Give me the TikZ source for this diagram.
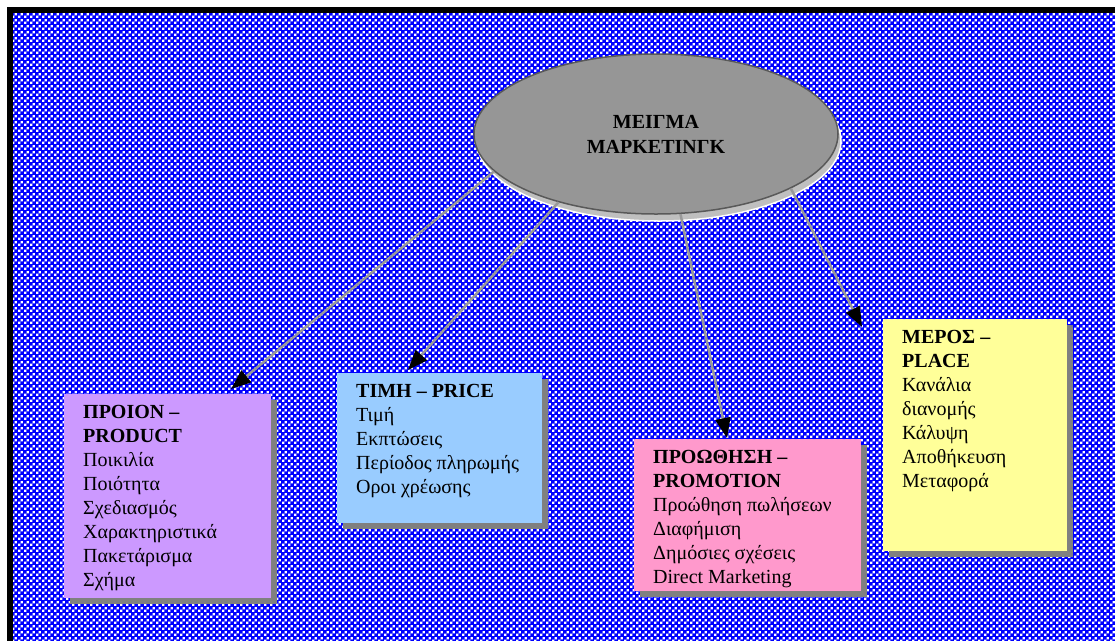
\documentclass[tikz,border=0pt]{standalone}
\usepackage{fontspec}
\setmainfont{Liberation Serif}
\usetikzlibrary{arrows.meta,calc,shapes.geometric,shadows,patterns}
\definecolor{dither}{RGB}{0,0,255}
\definecolor{prodviolet}{RGB}{204,153,255}
\definecolor{priceblue}{RGB}{153,204,255}
\definecolor{promopink}{RGB}{255,153,204}
\definecolor{placeyellow}{RGB}{255,255,153}
\definecolor{mixgray}{RGB}{150,150,150}
\pgfdeclarepatternformonly{chequer}{\pgfpointorigin}{\pgfpoint{6pt}{6pt}}{\pgfpoint{6pt}{6pt}}{%
  \pgfpathrectangle{\pgfpoint{0.2pt}{0.2pt}}{\pgfpoint{2.6pt}{2.6pt}}%
  \pgfpathrectangle{\pgfpoint{3.2pt}{3.2pt}}{\pgfpoint{2.6pt}{2.6pt}}%
  \pgfusepath{fill}}
\newcommand{\cardtext}[3]{\begin{minipage}[t][#2][t]{#1}\raggedright #3\end{minipage}}

\begin{document}
\begin{tikzpicture}[x=1pt,y=-1pt,font=\fontsize{20}{24}\selectfont,
    card/.style={draw=none,anchor=north west,inner xsep=19pt,inner ysep=11pt,
      drop shadow={shadow xshift=6pt,shadow yshift=-6pt,fill=black!50,opacity=1}},
    link/.style={draw=black!40,line width=2.5pt,-{Triangle[length=20pt,width=15pt,black]}}]

    % background
    \useasboundingbox (0,0) rectangle (1115,641);
    \fill[white] (0,0) rectangle (1115,641);
    \fill[dither] (13,13) rectangle (1115,641);
    \fill[pattern=chequer,pattern color=white] (13,13) rectangle (1115,641);
    \fill[black] (7,7) rectangle (1115,13);
    \fill[black] (7,7) rectangle (13,641);

    \node[ellipse,fill=mixgray,draw=black!65,line width=1.5pt,
          minimum width=364pt,minimum height=160pt,align=center,
          font=\fontsize{20}{25}\selectfont\bfseries,
          drop shadow={shadow xshift=3pt,shadow yshift=-7pt,fill=black!25,draw=white,opacity=1}]
          (mix) at (656,134) {ΜΕΙΓΜΑ\\ΜΑΡΚΕΤΙΝΓΚ};

    \node[card,fill=prodviolet] (product) at (64,394)
        {\cardtext{169pt}{182pt}{\textbf{ΠΡΟΙΟΝ –}\\ \textbf{PRODUCT}\\ Ποικιλία\\ Ποιότητα\\
         Σχεδιασμός\\ Χαρακτηριστικά\\ Πακετάρισμα\\ Σχήμα}};
    \node[card,fill=priceblue] (price) at (337,373)
        {\cardtext{167pt}{128pt}{\textbf{ΤΙΜΗ – PRICE}\\ Τιμή\\ Εκπτώσεις\\ Περίοδος πληρωμής\\
         Οροι χρέωσης}};
    \node[card,fill=promopink] (promotion) at (634,439)
        {\cardtext{189pt}{130pt}{\textbf{ΠΡΟΩΘΗΣΗ –}\\ \textbf{PROMOTION}\\ Προώθηση πωλήσεων\\
         Διαφήμιση\\ Δημόσιες σχέσεις\\ Direct Marketing}};
    \node[card,fill=placeyellow] (place) at (883,319)
        {\cardtext{146pt}{210pt}{\textbf{ΜΕΡΟΣ –}\\ \textbf{PLACE}\\ Κανάλια\\ διανομής\\
         Κάλυψη\\ Αποθήκευση\\ Μεταφορά}};

    \draw[link] (mix.-167.5) -- ($(product.north west)+(167,-5)$);
    \draw[link] (mix.-145)   -- ($(price.north west)+(71,-3)$);
    \draw[link] (mix.-73)    -- ($(promotion.north west)+(93,-1)$);
    \draw[link] (mix.-22.6)  -- ($(place.north west)+(-21,8)$);

\end{tikzpicture}
\end{document}
